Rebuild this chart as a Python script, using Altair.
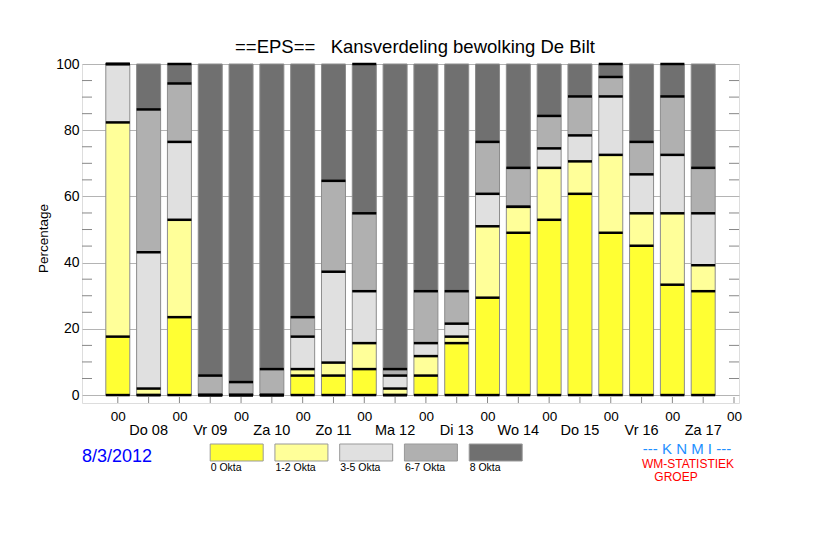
import altair as alt
import pandas as pd

# ---------------- data ----------------
members = 51  # ensemble members
hours = [0, 12, 24, 36, 48, 60, 72, 84, 96, 108, 120, 132, 144, 156, 168, 180, 192, 204, 216, 228]
categories = ["0 Okta", "1-2 Okta", "3-5 Okta", "6-7 Okta", "8 Okta"]
colors = ["#ffff33", "#ffff99", "#e0e0e0", "#b0b0b0", "#707070"]

okta_0 = [9, 0, 12, 0, 0, 0, 3, 3, 4, 0, 3, 8, 15, 25, 27, 31, 25, 23, 17, 16]
okta_1_2 = [33, 1, 15, 0, 0, 0, 1, 2, 4, 1, 3, 1, 11, 4, 8, 5, 12, 5, 11, 4]
okta_3_5 = [9, 21, 12, 0, 0, 0, 5, 14, 8, 2, 2, 2, 5, 0, 3, 4, 9, 6, 9, 8]
okta_6_7 = [0, 22, 9, 3, 2, 4, 3, 14, 12, 1, 8, 5, 8, 6, 5, 6, 3, 5, 9, 7]
okta_8 = [0, 7, 3, 48, 49, 47, 39, 18, 23, 47, 35, 35, 12, 16, 8, 5, 2, 12, 5, 16]
top_edge = [1, 0, 1, 0, 0, 0, 0, 0, 1, 0, 0, 0, 0, 0, 0, 0, 1, 0, 1, 0]

tick00_hours = [0, 24, 48, 72, 96, 120, 144, 168, 192, 216, 240]
day_hours = [12, 36, 60, 84, 108, 132, 156, 180, 204, 228]
day_labels = ["Do 08", "Vr 09", "Za 10", "Zo 11", "Ma 12", "Di 13", "Wo 14", "Do 15", "Vr 16", "Za 17"]
y_labels = [0, 20, 40, 60, 80, 100]
minor_y = [5, 10, 15, 25, 30, 35, 45, 50, 55, 65, 70, 75, 85, 90, 95]
x_ticks = [0, 12, 24, 36, 48, 60, 72, 84, 96, 108, 120, 132, 144, 156, 168, 180, 192, 204, 216, 228, 240]

title_text = "==EPS==\u00a0\u00a0\u00a0Kansverdeling bewolking De Bilt"
date_text = "8/3/2012"
knmi_text = "--- K N M I ---"
group_lines = ["WM-STATISTIEK", "GROEP"]

# ---------------- tables ----------------
series = [okta_0, okta_1_2, okta_3_5, okta_6_7, okta_8]
rows = []
for ci, (cat, vals) in enumerate(zip(categories, series)):
    for h, v in zip(hours, vals):
        rows.append({"hour": h, "cat": cat, "idx": ci, "pct": v * 100.0 / members})
df = pd.DataFrame(rows)

lines = []
for bi, h in enumerate(hours):
    cum = 0
    lines.append({"hour": h, "val": 0.0})
    for vals in series[:4]:
        cum += vals[bi]
        lines.append({"hour": h, "val": cum * 100.0 / members})
    if top_edge[bi]:
        lines.append({"hour": h, "val": 100.0})
lines_df = pd.DataFrame(lines)

legend_df = pd.DataFrame({"cat": categories, "li": list(range(len(categories)))})

W, H = 657, 339
FONT = "Liberation Sans"
xs = alt.Scale(domain=[-12, 240], nice=False, zero=False)
ys = alt.Scale(domain=[-2.4, 100], nice=False, zero=False)
cs = alt.Scale(domain=categories, range=colors)

bars = alt.Chart(df).mark_bar(size=24, stroke="#8c8c8c", strokeWidth=1).encode(
    x=alt.X("hour:Q", scale=xs, title=None,
            axis=alt.Axis(values=tick00_hours, labelExpr="'00'", ticks=False, tickSize=0,
                          grid=False, domain=False, labelPadding=6, labelFontSize=13.5,
                          labelFlush=False, labelOverlap=False, labelColor="black", labelFont=FONT)),
    y=alt.Y("pct:Q", scale=ys, stack="zero", title="Percentage",
            axis=alt.Axis(values=y_labels, ticks=False, tickSize=0, grid=True, gridColor="#b4b4b4",
                          domain=False, labelPadding=3, labelFontSize=14, labelColor="black",
                          labelFont=FONT, titleFont=FONT, titleFontSize=13.5, titleFontWeight="normal",
                          titleColor="black", titleX=-32, titleY=174, labelOverlap=False,
                          labelFlush=False)),
    color=alt.Color("cat:N", scale=cs, legend=None),
    order=alt.Order("idx:Q", sort="ascending"),
)

edges = alt.Chart(lines_df).mark_tick(orient="horizontal", size=24, thickness=2.5, color="black", opacity=1).encode(
    x=alt.X("hour:Q", scale=xs, axis=None),
    y=alt.Y("val:Q", scale=ys, axis=None),
)

xtick = alt.Chart(pd.DataFrame({"hour": x_ticks})).mark_rule(color="#888888").encode(
    x=alt.X("hour:Q", scale=xs, axis=None),
    y=alt.value(H), y2=alt.value(H - 6),
)

minor_df = pd.DataFrame({"v": minor_y})
minor_left = alt.Chart(minor_df).mark_rule(color="#888888").encode(
    y=alt.Y("v:Q", scale=ys, axis=None), x=alt.value(0), x2=alt.value(10))
minor_right = alt.Chart(minor_df).mark_rule(color="#888888").encode(
    y=alt.Y("v:Q", scale=ys, axis=None), x=alt.value(W - 10), x2=alt.value(W))

days = alt.Chart(pd.DataFrame({"hour": day_hours, "lab": day_labels})).mark_text(
    font=FONT, fontSize=14.5, baseline="alphabetic", align="center", color="black").encode(
    x=alt.X("hour:Q", scale=xs, axis=None), y=alt.value(H + 32), text="lab:N")

one = pd.DataFrame({"t": [0]})
title = alt.Chart(one).mark_text(text=title_text, font=FONT, fontSize=18.5, baseline="alphabetic",
                                 align="center", color="black").encode(x=alt.value(333), y=alt.value(-11))
date = alt.Chart(one).mark_text(text=date_text, font=FONT, fontSize=18, baseline="alphabetic",
                                align="left", color="#0000ff").encode(x=alt.value(0), y=alt.value(H + 59))
knmi = alt.Chart(one).mark_text(text=knmi_text, font=FONT, fontSize=15, baseline="alphabetic",
                                align="center", color="#1e90ff").encode(x=alt.value(605), y=alt.value(H + 51))
grp1 = alt.Chart(one).mark_text(text=group_lines[0], font=FONT, fontSize=12, baseline="alphabetic",
                                align="center", color="#ff0000").encode(x=alt.value(606), y=alt.value(H + 65))
grp2 = alt.Chart(one).mark_text(text=group_lines[1], font=FONT, fontSize=12, baseline="alphabetic",
                                align="center", color="#ff0000").encode(x=alt.value(594), y=alt.value(H + 78))

# legend swatches placed along the shared time scale (layout only)
leg_start_h, leg_step_h = 46.3, 25.22
swatch = alt.Chart(legend_df).transform_calculate(
    lx=f"{leg_start_h} + datum.li * {leg_step_h}"
).mark_tick(orient="horizontal", size=53, thickness=17, stroke="#999999", strokeWidth=1, opacity=1).encode(
    x=alt.X("lx:Q", scale=xs, axis=None), y=alt.value(H + 49.5),
    color=alt.Color("cat:N", scale=cs, legend=None))
swatch_lab = alt.Chart(legend_df).transform_calculate(
    lx=f"{leg_start_h} + datum.li * {leg_step_h}"
).mark_text(font=FONT, fontSize=10.5, align="left", dx=-26, baseline="alphabetic", color="black").encode(
    x=alt.X("lx:Q", scale=xs, axis=None), y=alt.value(H + 68), text="cat:N")

chart = alt.layer(
    bars, edges, xtick, minor_left, minor_right, days, title, date, knmi, grp1, grp2, swatch, swatch_lab
).resolve_axis(y="independent", x="independent").properties(
    width=W, height=H,
    autosize=alt.AutoSizeParams(type="none"),
    padding={"left": 74, "top": 56, "right": 75, "bottom": 120},
).configure_view(stroke="#888888", strokeWidth=1).configure(background="white")

chart.save("out.html", embed_options={"renderer": "svg", "actions": False})
